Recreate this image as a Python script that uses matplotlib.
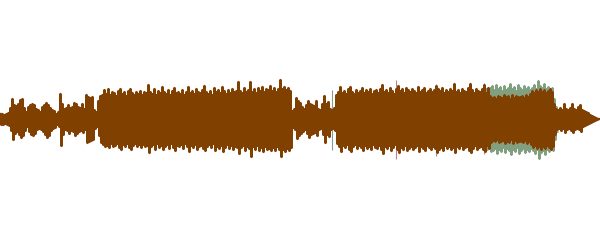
import numpy as np
import matplotlib
matplotlib.use("Agg")
import matplotlib.pyplot as plt

# waveform peaks, one value per 2 px column
step = 2
top = [
    5, 5, 4, 5, 6, 11, 20, 14, 13, 15,
    19, 20, 11, 7, 12, 14, 15, 14, 10, 9,
    7, 12, 14, 16, 14, 11, 9, 8, 5, 7,
    25, 15, 10, 11, 14, 11, 12, 16, 15, 12,
    11, 15, 10, 24, 22, 21, 22, 9, 7, 18,
    23, 24, 29, 25, 30, 24, 27, 26, 23, 28,
    30, 25, 27, 23, 28, 30, 26, 24, 27, 25,
    28, 24, 27, 26, 34, 27, 25, 30, 24, 28,
    26, 32, 27, 25, 29, 24, 28, 31, 26, 27,
    25, 29, 24, 27, 32, 26, 28, 25, 30, 27,
    26, 29, 33, 27, 25, 28, 24, 31, 27, 29,
    26, 32, 28, 25, 29, 26, 30, 27, 28, 37,
    28, 26, 31, 27, 29, 37, 27, 30, 26, 31,
    28, 32, 27, 30, 29, 33, 28, 31, 27, 30,
    39, 30, 32, 29, 31, 28, 8, 10, 21, 18,
    16, 12, 10, 14, 18, 15, 14, 13, 18, 10,
    9, 15, 23, 15, 17, 10, 9, 11, 24, 27,
    32, 26, 28, 25, 30, 32, 27, 25, 29, 26,
    28, 31, 26, 29, 27, 30, 25, 28, 29, 26,
    30, 34, 27, 29, 26, 31, 28, 25, 30, 33,
    28, 30, 26, 31, 29, 27, 30, 28, 26, 32,
    27, 29, 31, 26, 28, 30, 27, 29, 33, 30,
    28, 31, 26, 29, 27, 30, 28, 35, 27, 29,
    26, 30, 28, 27, 31, 35, 29, 26, 30, 28,
    27, 30, 34, 26, 31, 23, 21, 22, 20, 23,
    22, 21, 24, 22, 23, 20, 24, 21, 23, 22,
    22, 23, 21, 24, 22, 25, 28, 26, 29, 27,
    30, 27, 29, 26, 28, 30, 27, 15, 10, 9,
    11, 9, 15, 10, 9, 11, 15, 10, 9, 12,
    14, 9, 8, 7, 6, 4, 3, 2, 1, 0,
]
bottom = [
    6, 6, 5, 6, 7, 12, 21, 15, 13, 16,
    19, 17, 12, 8, 13, 16, 17, 15, 11, 10,
    11, 13, 16, 19, 17, 12, 10, 9, 6, 8,
    27, 16, 11, 12, 15, 12, 13, 17, 15, 13,
    12, 14, 11, 24, 23, 22, 21, 10, 8, 17,
    24, 26, 28, 27, 29, 25, 28, 27, 25, 29,
    31, 26, 28, 25, 29, 31, 27, 25, 28, 26,
    29, 26, 28, 27, 34, 28, 26, 31, 25, 29,
    27, 31, 28, 26, 30, 25, 29, 32, 27, 28,
    26, 30, 25, 28, 33, 27, 29, 26, 31, 28,
    27, 30, 32, 28, 26, 29, 25, 32, 28, 30,
    27, 33, 29, 26, 30, 27, 31, 28, 29, 35,
    29, 27, 32, 28, 30, 38, 28, 31, 27, 32,
    29, 33, 28, 31, 30, 32, 29, 32, 28, 31,
    38, 31, 33, 30, 32, 29, 9, 11, 20, 17,
    15, 13, 11, 15, 19, 16, 15, 14, 17, 11,
    10, 16, 24, 16, 18, 11, 10, 12, 25, 28,
    33, 27, 29, 26, 31, 33, 28, 26, 30, 27,
    29, 32, 27, 30, 28, 31, 26, 29, 30, 27,
    31, 35, 28, 30, 27, 32, 29, 26, 31, 34,
    29, 31, 27, 32, 30, 28, 31, 29, 27, 33,
    28, 30, 32, 27, 29, 31, 28, 30, 34, 31,
    29, 32, 27, 30, 28, 31, 29, 34, 28, 30,
    27, 31, 29, 28, 32, 34, 30, 27, 31, 29,
    28, 31, 33, 27, 30, 24, 22, 23, 21, 24,
    23, 22, 25, 23, 24, 21, 25, 22, 24, 23,
    23, 24, 22, 25, 23, 26, 29, 27, 30, 28,
    31, 28, 30, 27, 29, 31, 28, 16, 11, 10,
    12, 10, 14, 11, 10, 12, 14, 11, 10, 11,
    13, 8, 7, 6, 5, 4, 3, 2, 1, 0,
]

# second channel pokes out near the end
green_start = 486
green_top = [30, 28, 31, 33, 29, 34, 30, 32, 28, 33, 29, 31, 35, 30, 32, 28, 34, 31,
             29, 33, 30, 32, 29, 31, 34, 30, 38, 33, 31, 35, 30, 32, 29, 31, 20, 12]
green_bot = [31, 29, 33, 32, 30, 35, 31, 33, 29, 34, 30, 32, 36, 31, 33, 29, 35, 32,
             30, 34, 31, 33, 30, 32, 35, 31, 40, 34, 32, 36, 31, 33, 30, 32, 21, 13]
green_line_x = [332]
green_line_top = [29]
green_line_bot = [31]

pink_x = [396, 436, 484]
pink_top = [39, 35, 36]
pink_bot = [40, 37, 35]

brown = "#804000"
pink = "#c08080"
green = "#80a080"


def zigzag(start, hi, lo):
    # up to the peak, down to the trough, one column after another
    n = len(hi)
    xs = start + np.repeat(np.arange(n) * step, 2) + np.tile([0.5, 1.5], n)
    ys = np.empty(2 * n)
    ys[0::2] = hi
    ys[1::2] = -np.array(lo)
    return xs, ys


fig = plt.figure(figsize=(6, 2.4), dpi=100)
ax = fig.add_axes([0, 0, 1, 1])

# green channel
gx, gy = zigzag(green_start, green_top, green_bot)
ax.plot(gx, gy, color=green, lw=1.5, solid_joinstyle="round")
ax.vlines(green_line_x, [-b for b in green_line_bot], green_line_top, color=green, lw=0.8)

# pink channel, a hair larger than the brown one
px, py = zigzag(0, top, bottom)
ax.plot(px, py, color=pink, lw=1.7, solid_joinstyle="round")
ax.vlines(pink_x, [-b for b in pink_bot], pink_top, color=pink, lw=0.8)

# main waveform
ax.plot(px, py, color=brown, lw=1.5, solid_joinstyle="round")

ax.set_xlim(0, 600)
ax.set_ylim(-121, 119)
ax.axis("off")

fig.savefig("out.png", dpi=100, facecolor="white")
